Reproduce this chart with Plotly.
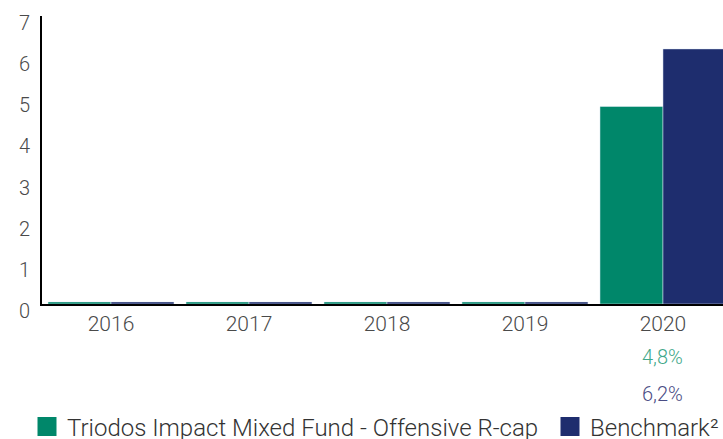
import plotly.graph_objects as go

# Annual returns (%) per calendar year
years = ["2016", "2017", "2018", "2019", "2020"]
fund_returns = [0, 0, 0, 0, 4.8]
benchmark_returns = [0, 0, 0, 0, 6.2]

fund_name = "Triodos Impact Mixed Fund - Offensive R-cap"
benchmark_name = "Benchmark²"

GREEN = "#00876A"
NAVY = "#1E2D6E"
TEXT = "#4A4A4A"
FONT = "Roboto"
WEIGHT = 300

# empty years are still drawn as a hairline on the baseline
MIN_VISIBLE = 0.05


def shown(values):
    return [max(v, MIN_VISIBLE) for v in values]


def pct(v):
    return f"{v:.1f}%".replace(".", ",")


fig = go.Figure()
fig.add_bar(x=years, y=shown(fund_returns), marker_color=GREEN,
            name=fund_name, showlegend=False)
fig.add_bar(x=years, y=shown(benchmark_returns), marker_color=NAVY,
            name=benchmark_name, showlegend=False)

# legend entries with large square swatches
fig.add_scatter(x=[None], y=[None], mode="markers", name=fund_name,
                marker=dict(symbol="square", size=16, color=GREEN,
                            line=dict(color=GREEN, width=3)),
                legend="legend")
fig.add_scatter(x=[None], y=[None], mode="markers", name=benchmark_name,
                marker=dict(symbol="square", size=16, color=NAVY,
                            line=dict(color=NAVY, width=3)),
                legend="legend2")

# value labels for the latest year, below the axis (category index)
last_idx = len(years) - 1
fig.add_annotation(x=last_idx, xref="x", y=-0.184, yref="paper", yanchor="middle",
                   text=pct(fund_returns[last_idx]), showarrow=False,
                   font=dict(color="#3FA88A", size=20, family=FONT, weight=WEIGHT))
fig.add_annotation(x=last_idx, xref="x", y=-0.3125, yref="paper", yanchor="middle",
                   text=pct(benchmark_returns[last_idx]), showarrow=False,
                   font=dict(color="#4A4C84", size=20, family=FONT, weight=WEIGHT))

legend_common = dict(orientation="h", xref="container", yref="container",
                     yanchor="middle", xanchor="left", bgcolor="rgba(0,0,0,0)",
                     font=dict(size=24, color="#333333", family=FONT, weight=WEIGHT))

fig.update_layout(
    width=723, height=439,
    margin=dict(l=42, r=0, t=16, b=135, autoexpand=False),
    paper_bgcolor="white", plot_bgcolor="white",
    barmode="group", bargap=0.087, bargroupgap=0,
    font=dict(family=FONT, color=TEXT, size=20, weight=WEIGHT),
    legend=dict(x=27 / 723, y=12 / 439, **legend_common),
    legend2=dict(x=550 / 723, y=12 / 439, **legend_common),
    xaxis=dict(type="category", range=[-0.5, 4.435], showline=True,
               linecolor="black", linewidth=2, showgrid=False, ticks="",
               tickfont=dict(size=21, color=TEXT, family=FONT, weight=WEIGHT),
               fixedrange=True),
    yaxis=dict(range=[0, 7], dtick=1, showline=True, linecolor="black",
               linewidth=2, showgrid=False, zeroline=False, ticks="",
               ticklabelshift=7, ticklabelstandoff=6,
               tickfont=dict(size=20, color=TEXT, family=FONT, weight=WEIGHT),
               fixedrange=True),
)

fig.write_html("out.html")
